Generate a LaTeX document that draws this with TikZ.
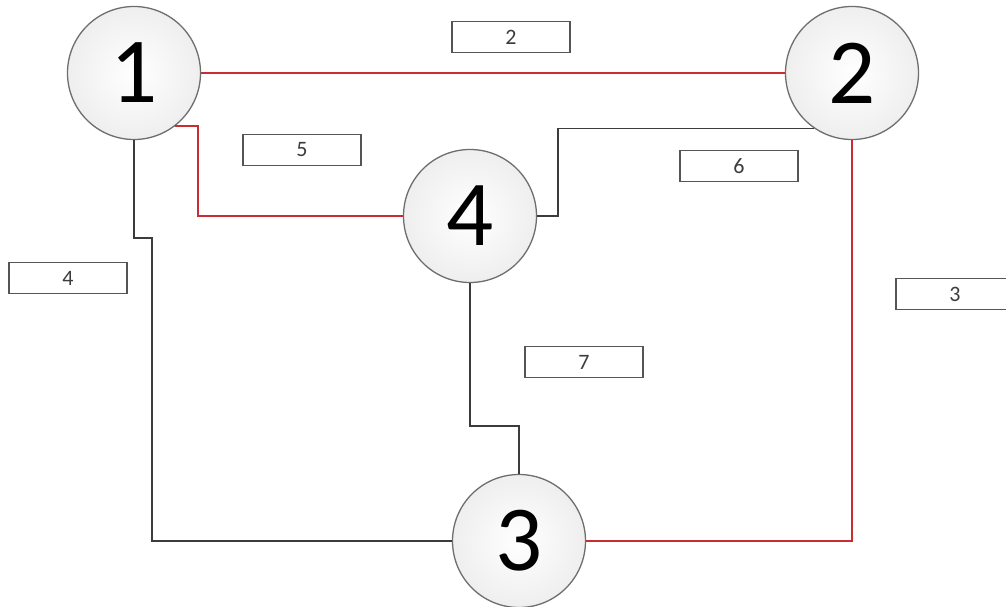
\documentclass[tikz,border=0pt]{standalone}
\usepackage{fontspec}
\setmainfont{Carlito}
\definecolor{redline}{RGB}{200,45,50}
\definecolor{darkline}{RGB}{60,60,60}
\definecolor{boxedge}{RGB}{85,85,85}
\definecolor{circedge}{RGB}{110,110,110}
\tikzset{
  bignode/.style={circle, draw=circedge, line width=1.3pt, minimum size=133pt, inner sep=0pt,
    shading=radial, inner color=white, outer color=gray!13,
    font=\fontsize{93}{93}\selectfont, text=black},
  lbl/.style={rectangle, draw=boxedge, line width=1.6pt, fill=white, minimum width=118pt,
    minimum height=31pt, inner sep=0pt, font=\fontsize{22}{22}\selectfont, text=darkline},
  redc/.style={draw=redline, line width=1.6pt},
  blkc/.style={draw=darkline, line width=1.6pt},
}
\begin{document}
\begin{tikzpicture}[x=1pt,y=-1pt]
\useasboundingbox (0,0) rectangle (1006,607);
\clip (0,0) rectangle (1006,607);
\fill[white] (0,0) rectangle (1006,607);
% circles
\node[bignode] (n1) at (134,73) {1};
\node[bignode] (n2) at (852,73) {2};
\node[bignode] (n4) at (470,216) {4};
\node[bignode] (n3) at (519,541) {3};
% bend points
\coordinate (k1) at (198,216);
\coordinate (k2) at (558,216);
\coordinate (k3) at (152,238);
\coordinate (k4) at (519,426);
% connectors
\draw[redc] (n1.east) -- (n2.west);
\draw[redc] (n1.-52) -| (k1) -- (n4.west);
\draw[blkc] (n2.236) -| (k2) -- (n4.east);
\draw[redc] (n2.south) |- (n3.east);
\draw[blkc] (n1.south) |- (k3) |- (n3.west);
\draw[blkc] (n4.south) |- (k4) -- (n3.north);
% labels
\node[lbl] (l2) at (511,37) {2};
\node[lbl] (l5) at (302,150) {5};
\node[lbl] (l6) at (739,166) {6};
\node[lbl] (l4) at (68,278) {4};
\node[lbl] (l3) at (955,294) {3};
\node[lbl] (l7) at (584,362) {7};
\end{tikzpicture}
\end{document}
